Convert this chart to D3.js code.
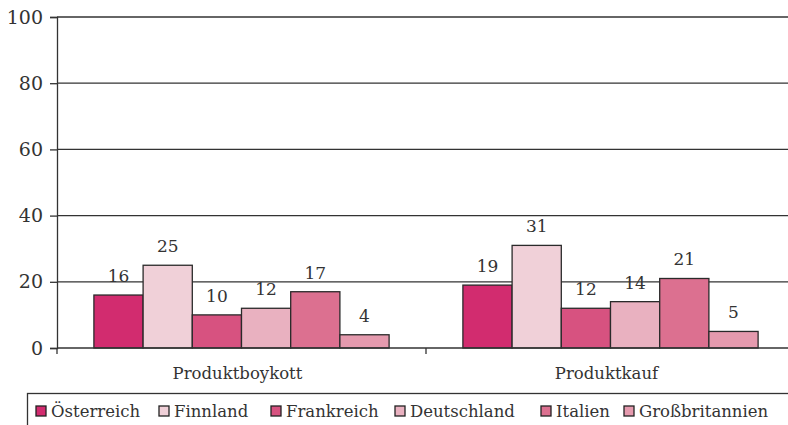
<!DOCTYPE html>
<html>
<head>
<meta charset="utf-8">
<script src="https://cdn.jsdelivr.net/npm/d3@7"></script>
<style>
  body { margin: 0; background: #fff; }
  svg text { font-family: "DejaVu Serif", serif; }
</style>
</head>
<body>
<div id="chart"></div>
<script>
// data
const categories = ['Produktboykott', 'Produktkauf'];
const countries = ['Österreich', 'Finnland', 'Frankreich', 'Deutschland', 'Italien', 'Großbritannien'];
const boykott = [16, 25, 10, 12, 17, 4];
const kauf = [19, 31, 12, 14, 21, 5];
const yTicks = [0, 20, 40, 60, 80, 100];
const colors = ['#d22c6f', '#f0d0d8', '#d75280', '#e9b1c0', '#dc7090', '#e59aae'];

const seriesByCat = [boykott, kauf];

const width = 788, height = 425;
const plotLeft = 57, plotRight = 795, plotTop = 17, plotBottom = 348;

const svg = d3.select('#chart').append('svg')
  .attr('width', width).attr('height', height);

const x0 = d3.scaleBand().domain(categories).range([plotLeft, plotRight]).paddingInner(0).paddingOuter(0);
const x1 = d3.scaleBand().domain(countries).range([0, x0.bandwidth()]).paddingInner(0).paddingOuter(0.75);
const y = d3.scaleLinear().domain([0, 100]).range([plotBottom, plotTop]);
const color = d3.scaleOrdinal().domain(countries).range(colors);

const ink = '#333';

// gridlines
svg.append('g')
  .selectAll('line').data(yTicks.filter(d => d > 0)).join('line')
  .attr('x1', plotLeft).attr('x2', width)
  .attr('y1', d => y(d)).attr('y2', d => y(d))
  .attr('stroke', ink).attr('stroke-width', 1.3);

// y axis
const yAxis = svg.append('g')
  .attr('transform', `translate(${plotLeft},0)`)
  .call(d3.axisLeft(y).tickValues(yTicks).tickSize(7).tickPadding(7));
yAxis.select('.domain').attr('stroke', ink).attr('stroke-width', 1.3);
yAxis.selectAll('.tick line').attr('stroke', ink).attr('stroke-width', 1.3);
yAxis.selectAll('.tick text')
  .attr('fill', ink).attr('font-size', 19);

// bars
const groups = svg.append('g').selectAll('g').data(categories).join('g')
  .attr('transform', d => `translate(${x0(d)},0)`);

groups.selectAll('rect')
  .data((c, i) => countries.map((k, j) => ({ k, v: seriesByCat[i][j] })))
  .join('rect')
  .attr('x', d => x1(d.k))
  .attr('y', d => y(d.v))
  .attr('width', x1.bandwidth())
  .attr('height', d => y(0) - y(d.v))
  .attr('fill', d => color(d.k))
  .attr('stroke', '#2a2a2a').attr('stroke-width', 1.3);

groups.selectAll('text.val')
  .data((c, i) => countries.map((k, j) => ({ k, v: seriesByCat[i][j] })))
  .join('text')
  .attr('class', 'val')
  .attr('x', d => x1(d.k) + x1.bandwidth() / 2)
  .attr('y', d => y(d.v) - 13)
  .attr('text-anchor', 'middle')
  .attr('fill', ink)
  .attr('font-size', 17)
  .text(d => d.v);

// x axis
const xAxis = svg.append('g')
  .attr('transform', `translate(0,${plotBottom})`);
xAxis.append('line')
  .attr('x1', plotLeft).attr('x2', width)
  .attr('stroke', ink).attr('stroke-width', 1.3);
xAxis.selectAll('line.tick')
  .data([plotLeft, x0('Produktkauf')]).join('line')
  .attr('class', 'tick')
  .attr('x1', d => d).attr('x2', d => d)
  .attr('y1', 0).attr('y2', 6)
  .attr('stroke', ink).attr('stroke-width', 1.3);
xAxis.selectAll('text')
  .data(categories).join('text')
  .attr('x', d => x0(d) + x0.bandwidth() / 2 - 4)
  .attr('y', 31)
  .attr('text-anchor', 'middle')
  .attr('fill', ink)
  .attr('font-size', 16.5)
  .text(d => d);

// legend
const legend = svg.append('g');
legend.append('rect')
  .attr('x', 27.5).attr('y', 393.5)
  .attr('width', 770).attr('height', 40)
  .attr('fill', 'none').attr('stroke', ink).attr('stroke-width', 1.3);

const legendX = [36, 159, 271, 395, 541, 624];
const items = legend.selectAll('g.item').data(countries).join('g')
  .attr('class', 'item')
  .attr('transform', (d, i) => `translate(${legendX[i]},411)`);
items.append('rect')
  .attr('x', 0).attr('y', -5).attr('width', 10).attr('height', 10)
  .attr('fill', d => color(d))
  .attr('stroke', '#222').attr('stroke-width', 1.3);
items.append('text')
  .attr('x', 15).attr('y', 6)
  .attr('fill', ink)
  .attr('font-size', 16.5)
  .text(d => d);
</script>
</body>
</html>
